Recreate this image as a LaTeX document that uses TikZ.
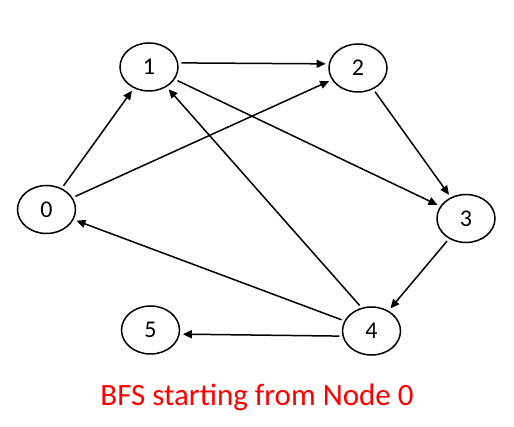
\documentclass[tikz,border=0pt]{standalone}
\usepackage{fontspec}
\setmainfont{Carlito}
\usetikzlibrary{shapes.geometric,arrows.meta}
\begin{document}
\begin{tikzpicture}[x=1pt,y=-1pt,
  vtx/.style={draw,ellipse,line width=1.5pt,minimum width=58pt,minimum height=48pt,inner sep=0pt,font=\fontsize{24}{26}\selectfont},
  edge/.style={line width=1.5pt,-{Triangle[length=9pt,width=8pt]},shorten <=3pt,shorten >=3pt}]
\useasboundingbox (0,0) rectangle (514,427);
\node[vtx] (n0) at (46.5,209.5) {0};
\node[vtx] (n1) at (149,67) {1};
\node[vtx] (n2) at (358,68) {2};
\node[vtx] (n3) at (466,218.5) {3};
\node[vtx] (n4) at (371.5,331) {4};
\node[vtx] (n5) at (150.5,330) {5};
\draw[edge] (n0) -- (n1);
\draw[edge] (n0) -- (n2);
\draw[edge] (n1.8) -- (n2.172);
\draw[edge] (n1) -- (n3);
\draw[edge] (n2) -- (n3);
\draw[edge] (n3) -- (n4);
\draw[edge] (n4.113) -- (n1);
\draw[edge] (n4) -- (n0);
\draw[edge] (n4.190) -- (n5.352);
\node[text=red,font=\fontsize{31}{34}\selectfont] (cap) at (257,397) {BFS starting from Node 0};
\end{tikzpicture}
\end{document}
